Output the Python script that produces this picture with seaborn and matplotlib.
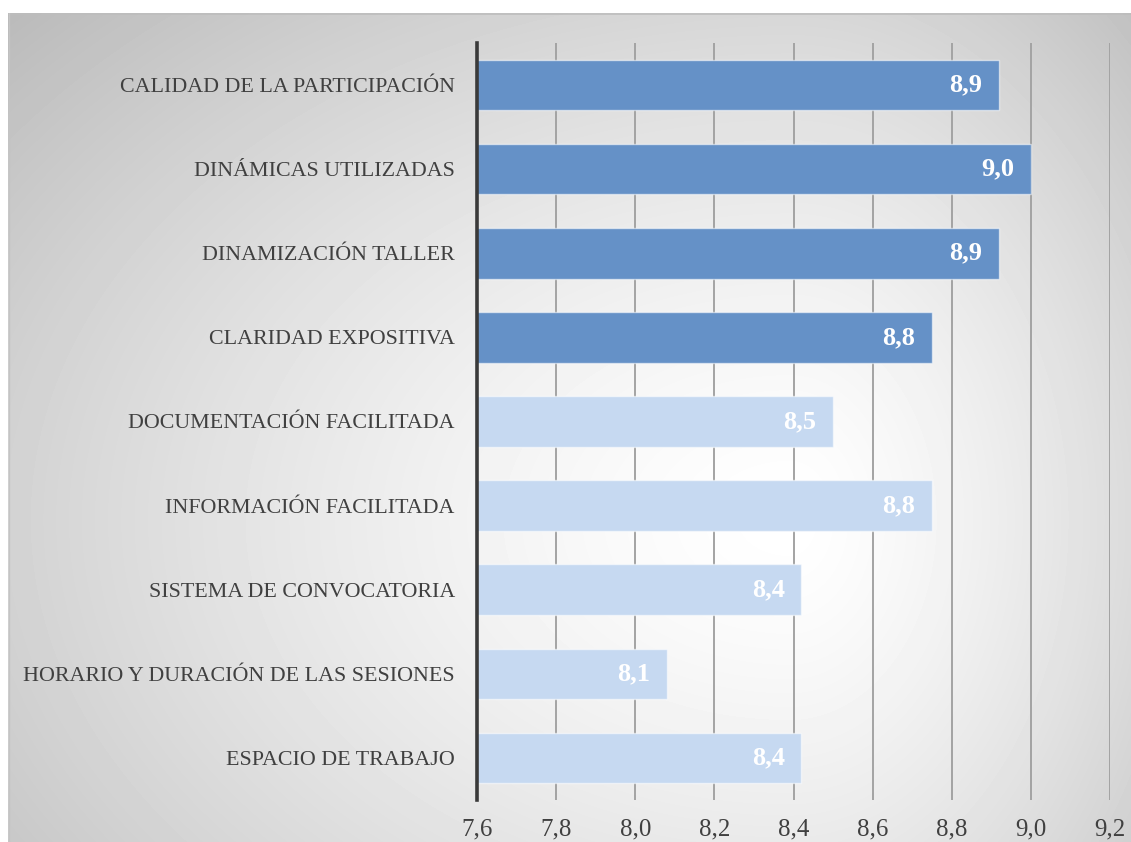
import numpy as np
import pandas as pd
import matplotlib
matplotlib.use("Agg")
import matplotlib.pyplot as plt
import seaborn as sns

# Valoración media de cada aspecto del taller
categorias = [
    "CALIDAD DE LA PARTICIPACIÓN",
    "DINÁMICAS UTILIZADAS",
    "DINAMIZACIÓN TALLER",
    "CLARIDAD EXPOSITIVA",
    "DOCUMENTACIÓN FACILITADA",
    "INFORMACIÓN FACILITADA",
    "SISTEMA DE CONVOCATORIA",
    "HORARIO Y DURACIÓN DE LAS SESIONES",
    "ESPACIO DE TRABAJO",
]
valores = [8.92, 9.00, 8.92, 8.75, 8.50, 8.75, 8.42, 8.08, 8.42]
grupo = ["desarrollo"] * 4 + ["organizacion"] * 5
ticks_x = [7.6, 7.8, 8.0, 8.2, 8.4, 8.6, 8.8, 9.0, 9.2]

colores = {"desarrollo": "#6591C7", "organizacion": "#C6D9F1"}
texto = "#404040"

W, H, DPI = 1131, 842, 100
sns.set_theme(style="white")
plt.rcParams["font.family"] = ["Liberation Serif", "DejaVu Serif"]

fig = plt.figure(figsize=(W / DPI, H / DPI), dpi=DPI)
fig.patch.set_facecolor("white")

# Fondo con degradado radial gris
x0, y0 = 8, 13
bg = fig.add_axes([x0 / W, 0, 1 - x0 / W, (H - y0) / H], zorder=-5)
xs = np.arange(x0, W) + 0.5
ys = np.arange(y0, H) + 0.5
X, Y = np.meshgrid(xs, ys)
cx, cy = 790, 520
dx = np.where(X < cx, (X - cx) / 860.0, (X - cx) / 440.0)
dy = (Y - cy) / 600.0
r = np.sqrt(dx ** 2 + dy ** 2)
val = 1.0 - 0.2 * np.clip(r, 0, 1.6) ** 1.4
bg.imshow(val, cmap="gray", vmin=0, vmax=1, aspect="auto",
          extent=[x0, W, H, y0], interpolation="bilinear")
bg.plot([x0, W], [y0 + 0.5, y0 + 0.5], color="#BDBDBD", lw=1.2)
bg.plot([x0 + 0.5, x0 + 0.5], [y0, H], color="#C4C4C4", lw=1.0)
bg.set_xlim(x0, W)
bg.set_ylim(H, y0)
bg.axis("off")

ax = fig.add_axes([477 / W, 1 - 800 / H, (1110 - 477) / W, (800 - 43) / H])
ax.patch.set_alpha(0)

df = pd.DataFrame({"categoria": categorias, "valor": valores, "grupo": grupo})
sns.barplot(data=df, x="valor", y="categoria", hue="grupo", palette=colores,
            orient="h", width=0.6, dodge=False, legend=False, ax=ax,
            saturation=1, edgecolor=(1, 1, 1, 0.55), linewidth=1.0, zorder=3)

ax.set_xlim(7.6, 9.2)
ax.set_ylim(len(categorias) - 0.5, -0.5)
ax.set_xticks(ticks_x)
ax.set_xticklabels([f"{t:.1f}".replace(".", ",") for t in ticks_x],
                   fontsize=18, color=texto)
ax.tick_params(axis="x", length=0, pad=13)
ax.tick_params(axis="y", length=0, pad=16, labelsize=15.8, labelcolor=texto)
ax.set_xlabel("")
ax.set_ylabel("")

for t in ticks_x[1:]:
    ax.axvline(t, color="#A3A3A3", lw=1.4, zorder=1)

for s in ["top", "right", "bottom"]:
    ax.spines[s].set_visible(False)
ax.spines["left"].set_color("#3A3A3A")
ax.spines["left"].set_linewidth(2.6)
ax.spines["left"].set_zorder(5)

# Etiquetas de valor dentro del extremo de cada barra
for i, v in enumerate(valores):
    ax.annotate(f"{v:.1f}".replace(".", ","), xy=(v, i), xytext=(-12, 0),
                textcoords="offset points", ha="right", va="center",
                color="white", fontsize=19, fontweight="bold", zorder=6)

fig.savefig("out.png", dpi=DPI)
